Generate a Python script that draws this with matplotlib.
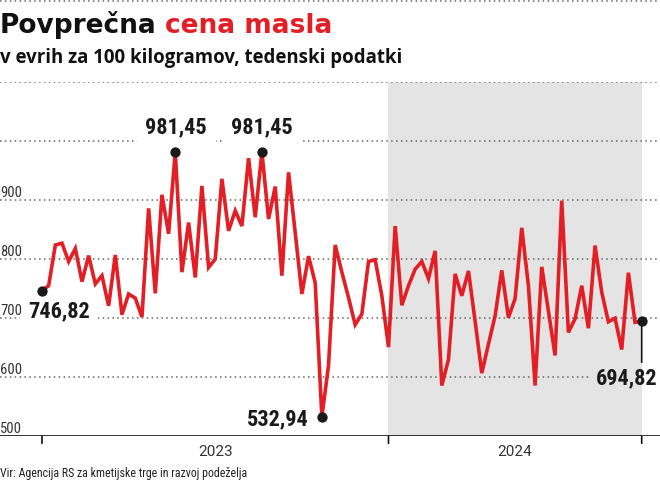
import matplotlib
matplotlib.use("Agg")
import matplotlib.pyplot as plt
from matplotlib.lines import Line2D
import matplotlib.transforms as mtransforms

# ---- data ----
weeks = list(range(91))  # weekly observations, week 0 = first week of 2023
prices = [746.82, 755, 824, 827, 796, 818, 762, 806, 758, 772,
          721, 807, 706, 741, 734, 702, 886, 742, 909, 843,
          981.45, 778, 862, 769, 924, 786, 800, 936, 848, 882,
          856, 971, 871, 981.45, 868, 923, 772, 947, 845, 741,
          805, 760, 532.94, 620, 824, 778, 735, 689, 707, 796,
          799, 738, 651, 856, 722, 755, 783, 796, 767, 814,
          586, 630, 775, 738, 780, 695, 607, 656, 704, 781,
          701, 733, 853, 755, 586, 787, 712, 637, 899, 676,
          699, 755, 683, 823, 744, 694, 700, 647, 777, 693, 694.82]
year_bounds = [0, 52, 90]
year_labels = ["2023", "2024"]
y_ticks = [500, 600, 700, 800, 900]
y_grid = [600, 700, 800, 900, 1000, 1100]
labelled = [0, 20, 33, 42, 90]

title_a = "Povprečna"
title_b = "cena masla"
subtitle = "v evrih za 100 kilogramov, tedenski podatki"
source = "Vir: Agencija RS za kmetijske trge in razvoj podeželja"

RED = "#e31e24"
NARROW = ["Liberation Sans Narrow", "Roboto Condensed", "DejaVu Sans"]

fig = plt.figure(figsize=(6.6, 4.85), dpi=100)
W, H = 660, 485
ax = fig.add_axes([0, (H - 437.3) / H, 1, (437.3 - 83) / H])
ax.set_xlim(-42 / 6.663, 90 + 18.3 / 6.663)
ax.set_ylim(500, 1100)
for s in ax.spines.values():
    s.set_visible(False)
ax.set_xticks([])
ax.set_yticks([])

# shaded 2024
ax.axvspan(year_bounds[1], year_bounds[2], color="#e4e4e4", zorder=0, lw=0)

# main line
ax.plot(weeks, prices, color=RED, lw=2.6, zorder=4, solid_joinstyle="miter")

# labelled points
ax.scatter([weeks[i] for i in labelled], [prices[i] for i in labelled],
           s=55, color="#1a1a1a", zorder=6, lw=0)

def fmt(v):
    return f"{v:.2f}".replace(".", ",")

lab_kw = dict(textcoords="offset pixels", fontsize=16, fontweight="bold",
              color="#1a1a1a", family=NARROW, zorder=5, va="center")
box = dict(boxstyle="square,pad=0.38", fc="white", ec="none")
i0, i1, i2, i3, i4 = labelled
ax.annotate(fmt(prices[i0]), xy=(weeks[i0], prices[i0]), xytext=(17, -20),
            ha="center", bbox=box, **lab_kw)
ax.annotate(fmt(prices[i1]), xy=(weeks[i1], prices[i1]), xytext=(1, 26),
            ha="center", bbox=box, **lab_kw)
ax.annotate(fmt(prices[i2]), xy=(weeks[i2], prices[i2]), xytext=(0, 26),
            ha="center", bbox=box, **lab_kw)
ax.annotate(fmt(prices[i3]), xy=(weeks[i3], prices[i3]), xytext=(-13, -1),
            ha="right", **lab_kw)
last_lab = ax.annotate(fmt(prices[i4]), xy=(weeks[i4], prices[i4]),
                       xytext=(16, -56), ha="right", **lab_kw)
ax.annotate("", xy=(weeks[i4], prices[i4]), xytext=(0, -41),
            textcoords="offset pixels",
            arrowprops=dict(arrowstyle="-", color="#1a1a1a", lw=1.2,
                            shrinkA=0, shrinkB=0), zorder=5)

fig.canvas.draw()
lb = last_lab.get_window_extent()

# grid
for g in y_grid:
    xmax = 1.0
    if g == 600:
        xmax = (lb.x0 - 6) / W
    ax.axhline(g, xmax=xmax, color="#666666", lw=1.1, ls=(0, (1, 2.2)), zorder=1)
ax.axhline(500, color="#111111", lw=1.2, zorder=3)

# tick labels
blend = mtransforms.blended_transform_factory(ax.transAxes, ax.transData)
for t in y_ticks:
    ax.annotate(str(t), xy=(0, t), xycoords=blend, xytext=(0, 4),
                textcoords="offset pixels", ha="left", va="baseline",
                fontsize=10.5, color="#333333", family=NARROW, zorder=8)

# year ticks and labels
for b in year_bounds:
    ax.annotate("", xy=(b, 500), xycoords="data", xytext=(0, -7),
                textcoords="offset pixels",
                arrowprops=dict(arrowstyle="-", color="#111111", lw=1.2,
                                shrinkA=0, shrinkB=0), annotation_clip=False)
for i, lab in enumerate(year_labels):
    mid = (year_bounds[i] + year_bounds[i + 1]) / 2
    ax.annotate(lab, xy=(mid, 500), xytext=(0, -15), textcoords="offset pixels",
                ha="center", va="center", fontsize=11, color="#333333",
                family=["Roboto", "DejaVu Sans"], annotation_clip=False)

# top border
fig.add_artist(Line2D([0, 1], [1 - 1.5 / H, 1 - 1.5 / H], color="#666666",
                      lw=1.1, ls=(0, (1, 2.2))))

# title
TFAM = ["DejaVu Sans"]
t1 = fig.text(0, 1 - 33.3 / H, title_a, fontsize=19, fontweight="bold",
              family=TFAM, color="#111111", va="baseline")
fig.canvas.draw()
bb = t1.get_window_extent()
fig.text((bb.x1 + 8) / W, 1 - 33.3 / H, title_b, fontsize=19, fontweight="bold",
         family=TFAM, color=RED, va="baseline")
fig.text(0, 1 - 63.3 / H, subtitle, fontsize=13.4, fontweight="bold",
         family=["Open Sans", "DejaVu Sans"], color="#111111", va="baseline")
fig.text(0, 1 - 477 / H, source, fontsize=8.6, family=NARROW,
         color="#222222", va="baseline")

fig.savefig("out.png", dpi=100)
